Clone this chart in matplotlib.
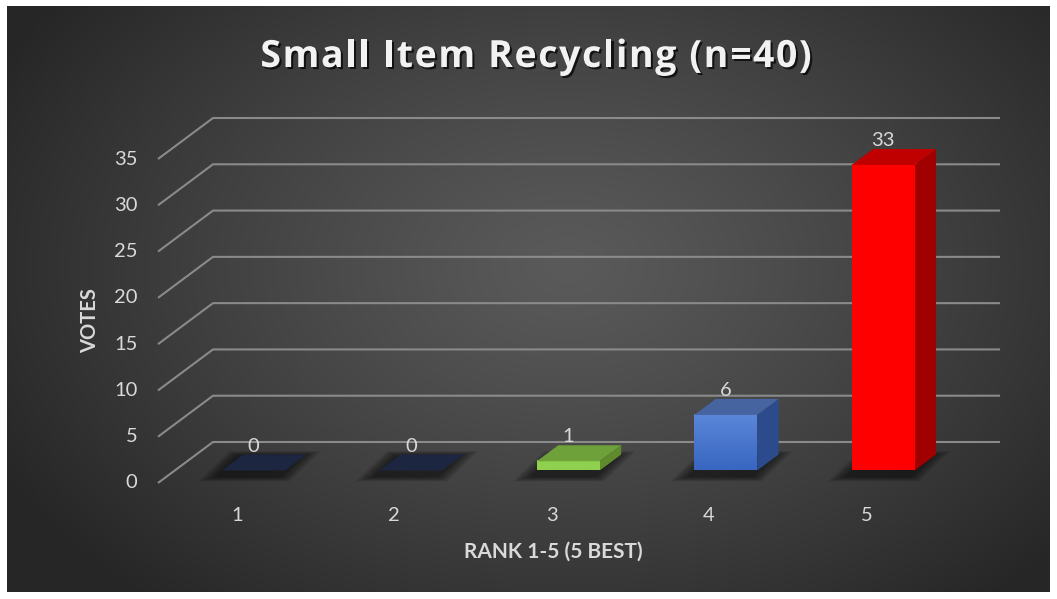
import numpy as np
import matplotlib.pyplot as plt
from matplotlib.patches import Polygon
from matplotlib.colors import to_rgb
from matplotlib.font_manager import FontProperties
from matplotlib.textpath import TextToPath
import matplotlib.patheffects as pe

plt.rcParams['font.family'] = ['Lato', 'DejaVu Sans']

# data
categories = ['1', '2', '3', '4', '5']
votes = [0, 0, 1, 6, 33]
y_ticks = [0, 5, 10, 15, 20, 25, 30, 35]
title = 'Small Item Recycling (n=40)'
x_title = 'RANK 1-5 (5 BEST)'
y_title = 'VOTES'

# colours per bar: front (top -> bottom), top face, side face
front_hi = ['#1f2b47', '#1f2b47', '#8fd14f', '#5b87d9', '#ff0000']
front_lo = ['#1f2b47', '#1f2b47', '#8fd14f', '#3866c0', '#ff0000']
top_cols = ['#1c2640', '#1c2640', '#6ea13a', '#46649f', '#c00000']
side_cols = ['#18203a', '#18203a', '#5f8a2e', '#2c4b8c', '#a00000']

W, H = 1057, 599
fig = plt.figure(figsize=(W / 100, H / 100), dpi=100, facecolor='white')

# dark radial background panel
bg = fig.add_axes([7 / W, 7 / H, 1043 / W, 586 / H])
bg.set_axis_off()
yy, xx = np.mgrid[0:586, 0:1043]
r = np.sqrt(((xx - 560) / 760.0) ** 2 + ((yy - 260) / 520.0) ** 2)
t = np.clip(r / 0.85, 0, 1) ** 1.2
c0 = np.array([0x5a, 0x5a, 0x5a]) / 255
c1 = np.array([0x26, 0x26, 0x26]) / 255
img = c0[None, None, :] * (1 - t[..., None]) + c1[None, None, :] * t[..., None]
bg.imshow(img, aspect='auto', interpolation='bilinear')

# main axes, mapped so that categories sit at their pixel spots
ppc = 157.4      # pixels per category
ppu = 9.257      # pixels per vote
x1_px, y0_px = 236.7, 483
ax = fig.add_axes([0, 0, 1, 1])
ax.patch.set_alpha(0)
ax.set_axis_off()
xlim = ((0 - x1_px) / ppc + 1, (W - x1_px) / ppc + 1)
ylim = ((y0_px - H) / ppu, y0_px / ppu)

DX = 55 / ppc
DY = 41 / ppu


def proj(x, v, d):
    return (x + d * DX, v + d * DY)


n = len(categories)
xmin, xmax = 0.5, n + 0.5
grid_col = '#8a8a8a'
txt_col = '#d9d9d9'

for v in y_ticks:
    p0 = proj(xmin, v, 0)
    p1 = proj(xmin, v, 1)
    p2 = proj(xmax, v, 1)
    ax.plot([p0[0], p1[0], p2[0]], [p0[1], p1[1], p2[1]], color=grid_col, lw=1.5,
            solid_capstyle='butt', zorder=1)
    ax.text(xmin - 0.13, v, str(v), color=txt_col, fontsize=14.5, ha='right', va='center')

bw = 0.4
d0, d1 = 0.305, 0.695
for i, v in enumerate(votes):
    xc = i + 1
    xa, xb = xc - bw / 2, xc + bw / 2
    # soft floor shadow
    foot = np.array([proj(xa, 0, d0), proj(xb, 0, d0), proj(xb, 0, d1), proj(xa, 0, d1)])
    cen = foot.mean(axis=0) + [-0.03, -0.4]
    for s in np.linspace(1.45, 1.05, 7):
        ax.add_patch(Polygon(cen + (foot - foot.mean(axis=0)) * [s, s * 1.3], closed=True,
                             facecolor='black', edgecolor='none', alpha=0.09, zorder=2))
    if v > 0:
        side = [proj(xb, 0, d0), proj(xb, 0, d1), proj(xb, v, d1), proj(xb, v, d0)]
        ax.add_patch(Polygon(side, closed=True, facecolor=side_cols[i], edgecolor='none', zorder=3))
        # front face with a vertical gradient
        fx0, fy0 = proj(xa, 0, d0)
        fx1, fy1 = proj(xb, v, d0)
        g = np.linspace(0, 1, 64)[:, None, None]
        grad = np.array(to_rgb(front_hi[i]))[None, None, :] * (1 - g) + \
            np.array(to_rgb(front_lo[i]))[None, None, :] * g
        ax.imshow(grad, extent=(fx0, fx1, fy0, fy1), origin='upper', aspect='auto',
                  interpolation='bilinear', zorder=4)
    top = [proj(xa, v, d0), proj(xb, v, d0), proj(xb, v, d1), proj(xa, v, d1)]
    ax.add_patch(Polygon(top, closed=True, facecolor=top_cols[i], edgecolor='none', zorder=4))
    lx, ly = proj(xc, v, d1)
    ax.text(xc + d0 * DX, ly, str(v), color=txt_col, fontsize=14.5,
            ha='center', va='bottom', zorder=5)
    ax.text(xc, -3.5, categories[i], color=txt_col, fontsize=14.5, ha='center', va='center')

ax.set_xlim(xlim)
ax.set_ylim(ylim)

ax.text(3.01, -7.45, x_title, color=txt_col, fontsize=15, fontweight='bold',
        ha='center', va='center')
ax.text(0.068, 17.6, y_title, color=txt_col, fontsize=14.5, fontweight='bold',
        ha='center', va='center', rotation=90)

# title with a bit of letter spacing, like the original
tprop = FontProperties(family='Open Sans', weight='bold', size=27)
ttp = TextToPath()
spacing = 1.6  # px between letters
widths = [ttp.get_text_width_height_descent(title[:k], tprop, ismath=False)[0] * 100 / 72
          for k in range(len(title) + 1)]
total = widths[-1] + spacing * (len(title) - 1)
left = 536 - total / 2
shadow = [pe.withSimplePatchShadow(offset=(1.5, -1.5), shadow_rgbFace='black', alpha=0.7)]
for k, ch in enumerate(title):
    if ch == ' ':
        continue
    fig.text((left + widths[k] + spacing * k) / W, 1 - 67 / H, ch, color='#f2f2f2',
             fontproperties=tprop, ha='left', va='baseline', path_effects=shadow)

fig.savefig('out.png', dpi=100, facecolor='white')
